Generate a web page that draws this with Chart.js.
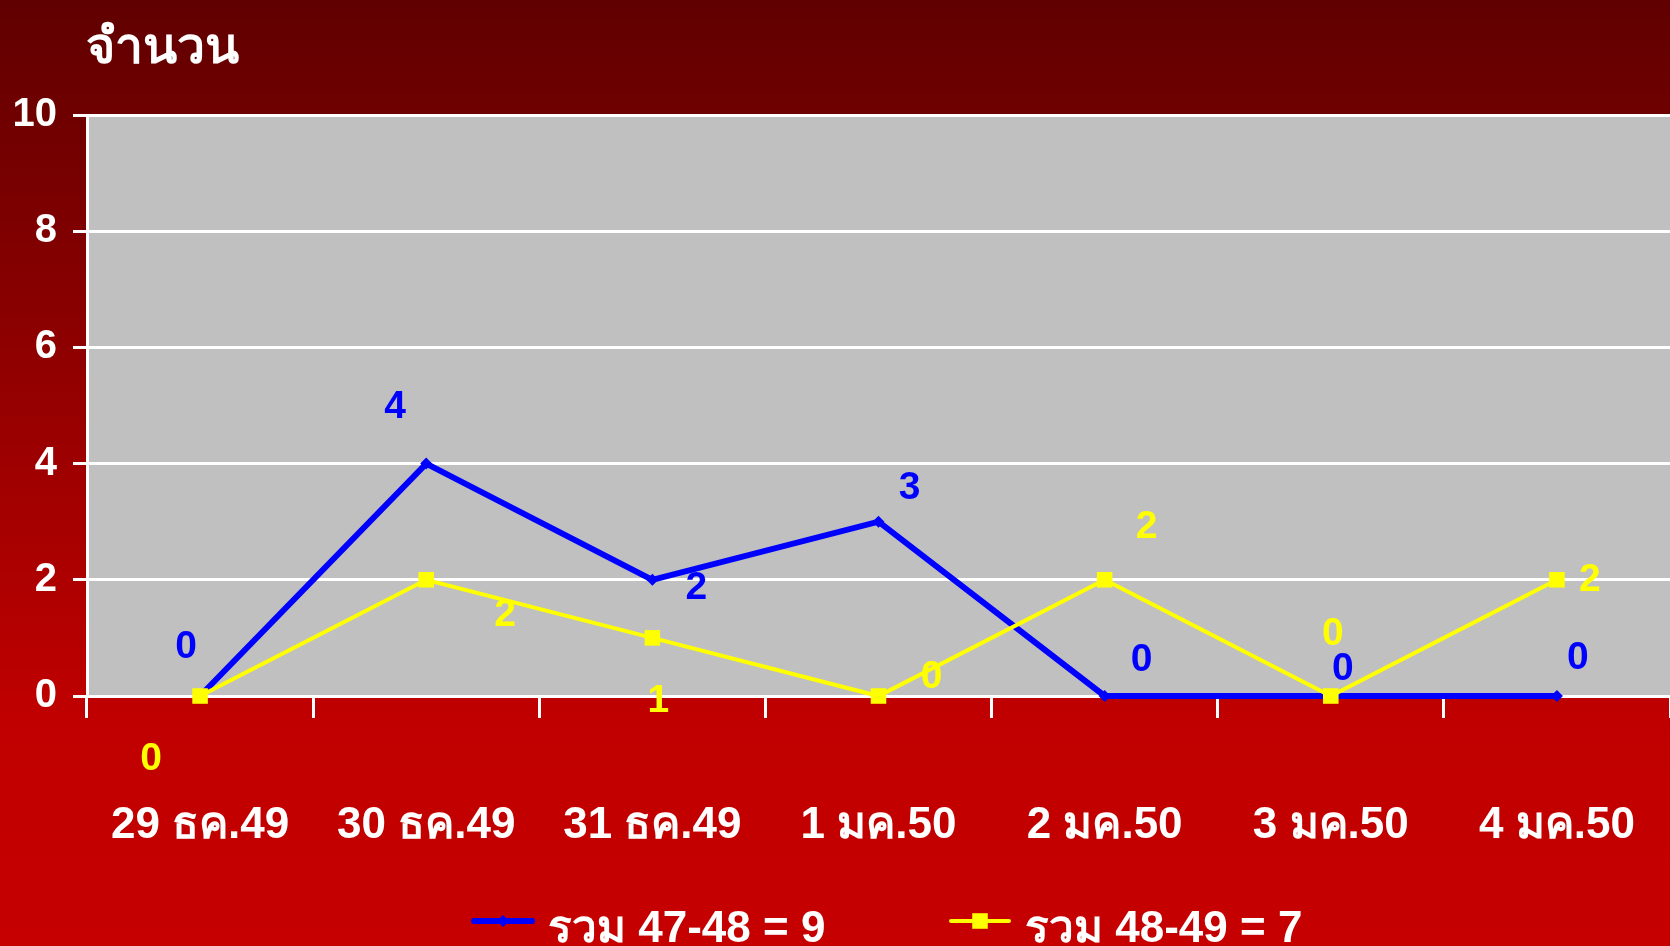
<!DOCTYPE html>
<html>
<head>
<meta charset="utf-8">
<script src="https://cdn.jsdelivr.net/npm/chart.js@4.4.1/dist/chart.umd.min.js"></script>
<style>
  html, body { margin: 0; padding: 0; background: #600000; }
  #wrap { width: 1670px; height: 946px; position: relative; }
</style>
</head>
<body>
<div id="wrap"><canvas id="chart" width="1670" height="946"></canvas></div>
<script>
const categories = ['29 ธค.49', '30 ธค.49', '31 ธค.49', '1 มค.50', '2 มค.50', '3 มค.50', '4 มค.50'];
const total4748 = [0, 4, 2, 3, 0, 0, 0];
const total4849 = [0, 2, 1, 0, 2, 0, 2];
const seriesNames = ['รวม 47-48 = 9', 'รวม 48-49 = 7'];
const yTicks = [0, 2, 4, 6, 8, 10];

const THAI_FONT = '"Liberation Sans", Arial, sans-serif';
const NUM_FONT = '"Liberation Sans", Arial, sans-serif';

// label offsets (px) from each point, as placed in the original slide
const labelOffsets = [
  [[-14, -49], [-31, -56], [44, 8], [31, -33], [37, -36], [12, -27], [21, -38]],
  [[-49, 63], [79, 35], [6, 63], [53, -19], [42, -53], [2, -62], [33, 0]]
];

const backdrop = {
  id: 'backdrop',
  beforeDraw(chart) {
    const { ctx, chartArea } = chart;
    const g = ctx.createLinearGradient(0, 0, 0, chart.height);
    g.addColorStop(0, '#600000');
    g.addColorStop(0.76, '#c00000');
    g.addColorStop(1, '#c60000');
    ctx.save();
    ctx.fillStyle = g;
    ctx.fillRect(0, 0, chart.width, chart.height);
    ctx.fillStyle = '#c0c0c0';
    ctx.fillRect(chartArea.left, chartArea.top, chartArea.right - chartArea.left, chartArea.bottom - chartArea.top);
    // title
    ctx.fillStyle = '#ffffff';
    ctx.font = 'bold 50px ' + THAI_FONT;
    ctx.textBaseline = 'alphabetic';
    ctx.textAlign = 'left';
    ctx.fillText('จำนวน', 86, 63);
    ctx.restore();
  }
};

const pointLabels = {
  id: 'pointLabels',
  afterDatasetsDraw(chart) {
    const { ctx } = chart;
    ctx.save();
    ctx.font = 'bold 39px ' + NUM_FONT;
    ctx.textAlign = 'center';
    ctx.textBaseline = 'middle';
    chart.data.datasets.forEach((ds, i) => {
      const meta = chart.getDatasetMeta(i);
      ctx.fillStyle = ds.borderColor;
      meta.data.forEach((pt, j) => {
        const off = labelOffsets[i][j];
        ctx.fillText(String(ds.data[j]), pt.x + off[0], pt.y + off[1]);
      });
    });
    ctx.restore();
  }
};

const bottomLegend = {
  id: 'bottomLegend',
  afterDraw(chart) {
    const { ctx } = chart;
    const y = 921;
    const items = [
      { x: 474, color: '#0000ff', lw: 6, style: 'rectRot', r: 6 },
      { x: 951, color: '#ffff00', lw: 4, style: 'rect', r: 11 }
    ];
    ctx.save();
    items.forEach((it, i) => {
      ctx.strokeStyle = it.color;
      ctx.lineWidth = it.lw;
      ctx.lineCap = 'round';
      ctx.beginPath();
      ctx.moveTo(it.x, y);
      ctx.lineTo(it.x + 58, y);
      ctx.stroke();
      ctx.fillStyle = it.color;
      Chart.helpers.drawPoint(ctx, { pointStyle: it.style, radius: it.r, borderWidth: 0 }, it.x + 29, y);
      ctx.fillStyle = '#ffffff';
      ctx.font = 'bold 44px ' + THAI_FONT;
      ctx.textAlign = 'left';
      ctx.textBaseline = 'middle';
      ctx.fillText(seriesNames[i], it.x + 74, y + 9);
    });
    ctx.restore();
  }
};

new Chart(document.getElementById('chart'), {
  type: 'line',
  data: {
    labels: categories,
    datasets: [
      {
        label: seriesNames[0],
        data: total4748,
        borderColor: '#0000ff',
        backgroundColor: '#0000ff',
        borderWidth: 6,
        pointStyle: 'rectRot',
        pointRadius: 6,
        pointBorderWidth: 0,
        tension: 0,
        clip: false,
        order: 1
      },
      {
        label: seriesNames[1],
        data: total4849,
        borderColor: '#ffff00',
        backgroundColor: '#ffff00',
        borderWidth: 4,
        pointStyle: 'rect',
        pointRadius: 11,
        pointBorderWidth: 0,
        tension: 0,
        clip: false,
        order: 0
      }
    ]
  },
  options: {
    responsive: false,
    animation: false,
    events: [],
    layout: { autoPadding: false, padding: { top: 115, left: 0, right: 0, bottom: 100 } },
    plugins: {
      legend: { display: false },
      title: { display: false },
      tooltip: { enabled: false }
    },
    scales: {
      x: {
        offset: true,
        grid: {
          offset: true,
          drawOnChartArea: false,
          drawTicks: true,
          tickLength: 22,
          tickWidth: 3,
          tickColor: '#ffffff'
        },
        border: { color: '#ffffff', width: 3 },
        ticks: {
          color: '#ffffff',
          font: { family: THAI_FONT, size: 44, weight: 'bold' },
          padding: 81,
          maxRotation: 0,
          autoSkip: false
        },
        afterFit(scale) {
          scale.height = 150;
          scale.paddingLeft = 0;
          scale.paddingRight = 0;
        }
      },
      y: {
        min: 0,
        max: 10,
        afterBuildTicks(scale) { scale.ticks = yTicks.map(v => ({ value: v })); },
        grid: {
          color: '#ffffff',
          lineWidth: 3,
          drawTicks: true,
          tickLength: 14,
          tickColor: '#ffffff'
        },
        border: { color: '#ffffff', width: 3 },
        ticks: {
          color: '#ffffff',
          font: { family: NUM_FONT, size: 40, weight: 'bold' },
          padding: 16
        },
        afterFit(scale) { scale.width = 87; }
      }
    }
  },
  plugins: [backdrop, pointLabels, bottomLegend]
});
</script>
</body>
</html>
